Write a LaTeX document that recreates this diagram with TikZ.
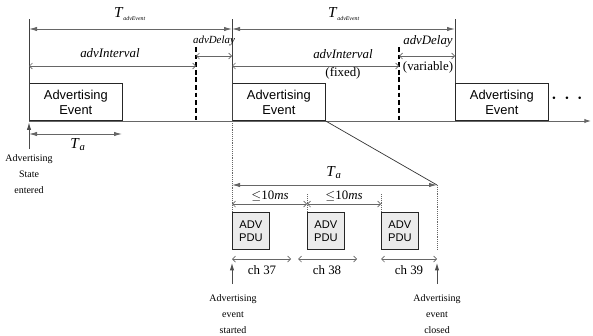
\documentclass[tikz,border=0pt]{standalone}
\usepackage{fontspec}
\setmainfont{Liberation Serif}
\setsansfont{Liberation Sans}
\usepackage{tikz}
\usetikzlibrary{arrows.meta, calc}

\begin{document}
\begin{tikzpicture}[
    x=0.03cm, y=-0.03cm,
    font=\fontsize{11}{13}\selectfont,
    evbox/.style={
        draw=black!85,
        line width=0.6pt,
        font=\sffamily\fontsize{11}{12.5}\selectfont,
        minimum width=2.79cm,
        minimum height=1.11cm,
        align=center,
        inner sep=1pt,
        anchor=south west
    },
    pdubox/.style={
        draw=black!85,
        fill=black!8,
        line width=0.6pt,
        font=\sffamily\fontsize{9.5}{11}\selectfont,
        minimum width=1.11cm,
        minimum height=1.11cm,
        align=center,
        inner sep=1pt,
        anchor=south west
    },
    bigdim/.style={black!60, line width=0.7pt, {Latex[length=2.4mm, width=1.3mm]}-{Latex[length=2.4mm, width=1.3mm]}},
    smalldim/.style={black!60, line width=0.6pt, {Straight Barb[length=0.9mm, width=1.8mm]}-{Straight Barb[length=0.9mm, width=1.8mm]}},
    upmark/.style={black!70, line width=0.7pt, -{Latex[length=2.2mm, width=1.3mm]}},
    guide/.style={black!75, line width=0.6pt},
    dotguide/.style={black!60, line width=0.7pt, dash pattern=on 0.8pt off 0.8pt},
    gapline/.style={black, line width=1.2pt, dash pattern=on 4pt off 2.5pt},
    note/.style={font=\fontsize{8.5}{14}\selectfont, align=center},
    tevent/.style={font=\fontsize{13}{15}\selectfont}
]

\useasboundingbox (0,0) rectangle (593,335);

% time line and events
\coordinate (b0) at (29,121);
\coordinate (b1) at (232,121);
\coordinate (tend) at (591,121);
\draw[black!60, line width=0.8pt, -{Latex[length=2mm, width=1.3mm]}] (b0) -- (tend);

\node[evbox] (ev1) at (29,121)  {Advertising\\Event};
\node[evbox] (ev2) at (232,121) {Advertising\\Event};
\node[evbox] (ev3) at (455,121) {Advertising\\Event};
\node[font=\Large\boldmath] (more) at (567,99) {$\cdot\,\cdot\,\cdot$};

% guide lines
\coordinate (t0) at (29,19);
\coordinate (t1) at (232,19);
\coordinate (t2) at (455,19);
\draw[guide] (t0) -- (b0);
\draw[guide] (t1) -- (b1);
\draw[guide] (t2) -- (ev3.north west);

\coordinate (d1top) at (196,47);
\coordinate (d1bot) at (196,121);
\coordinate (d2top) at (399,47);
\coordinate (d2bot) at (399,121);
\draw[gapline] (d1top) -- (d1bot);
\draw[gapline] (d2top) -- (d2bot);

% T_advEvent
\coordinate (e0) at (29,29);
\coordinate (e1) at (232,29);
\coordinate (e2) at (455,29);
\draw[bigdim] (e0) -- (e1);
\draw[bigdim] (e1) -- (e2);
\node[tevent] (tev1) at (130,14) {\textit{T}\textsubscript{\tiny\textit{advEvent}}};
\node[tevent] (tev2) at (344,14) {\textit{T}\textsubscript{\tiny\textit{advEvent}}};

% advInterval / advDelay
\coordinate (i0) at (29,66);
\coordinate (i1) at (196,66);
\coordinate (i2) at (232,66);
\coordinate (i3) at (399,66);
\draw[smalldim] (i0) -- (i1);
\draw[smalldim] (i2) -- (i3);
\node (int1) at (110,53) {\textit{advInterval}};
\node (int2) at (343,54) {\textit{advInterval}};
\node (fix) at (343,73) {(fixed)};

\coordinate (j1) at (196,56);
\coordinate (j2) at (232,56);
\coordinate (j3) at (399,56);
\coordinate (j4) at (455,56);
\draw[smalldim] (j1) -- (j2);
\draw[smalldim] (j3) -- (j4);
\node[font=\fontsize{9.3}{11}\selectfont] (del1) at (214,41) {\textit{advDelay}};
\node (del2) at (428,41) {\textit{advDelay}};
\node (var) at (428,67) {(variable)};

% start of advertising state
\coordinate (a0) at (29,134);
\coordinate (a1) at (122,134);
\draw[bigdim] (a0) -- (a1);
\node[tevent] (ta1) at (78,145) {\textit{T}\textsubscript{\textit{a}}};
\coordinate (s0) at (29,149);
\draw[upmark] (s0) -- (29,122.5);
\node[note] (state) at (29,174) {Advertising\\State\\entered};

% zoom into one event
\coordinate (tae) at (437,185);
\coordinate (ta0) at (232,185);
\coordinate (pbot) at (232,250);
\coordinate (qbot) at (437,250);
\draw[black!80, line width=0.6pt] (ev2.south east) -- (tae);
\draw[dotguide] (b1) -- (pbot);
\draw[dotguide] (tae) -- (qbot);
\draw[bigdim] (ta0) -- (tae);
\node[tevent] (ta2) at (334,173) {\textit{T}\textsubscript{\textit{a}}};

\coordinate (k1top) at (307,194);
\coordinate (k1bot) at (307,212);
\coordinate (k2top) at (381,194);
\coordinate (k2bot) at (381,212);
\draw[dotguide] (k1top) -- (k1bot);
\draw[dotguide] (k2top) -- (k2bot);

\coordinate (m0) at (232,204);
\coordinate (m1) at (307,204);
\coordinate (m2) at (381,204);
\draw[smalldim] (m0) -- (m1);
\draw[smalldim] (m1) -- (m2);
\node (ms1) at (270,196) {$\leq$10\textit{ms}};
\node (ms2) at (344,196) {$\leq$10\textit{ms}};

\node[pdubox] (pdu1) at (232,250) {ADV\\PDU};
\node[pdubox] (pdu2) at (307,250) {ADV\\PDU};
\node[pdubox] (pdu3) at (381,250) {ADV\\PDU};

% channels
\coordinate (c0a) at (232,259);
\coordinate (c0b) at (291,259);
\coordinate (c1a) at (298,259);
\coordinate (c1b) at (357,259);
\coordinate (c2a) at (381,259);
\coordinate (c2b) at (437,259);
\draw[smalldim] (c0a) -- (c0b);
\draw[smalldim] (c1a) -- (c1b);
\draw[smalldim] (c2a) -- (c2b);
\node (ch1) at (262,270) {ch 37};
\node (ch2) at (327,270) {ch 38};
\node (ch3) at (409,270) {ch 39};

\coordinate (u0) at (232,284);
\coordinate (u1) at (437,284);
\draw[upmark] (u0) -- (232,263);
\draw[upmark] (u1) -- (437,263);
\node[note] (started) at (233,314) {Advertising\\event\\started};
\node[note] (closed) at (437,314) {Advertising\\event\\closed};

\end{tikzpicture}
\end{document}
